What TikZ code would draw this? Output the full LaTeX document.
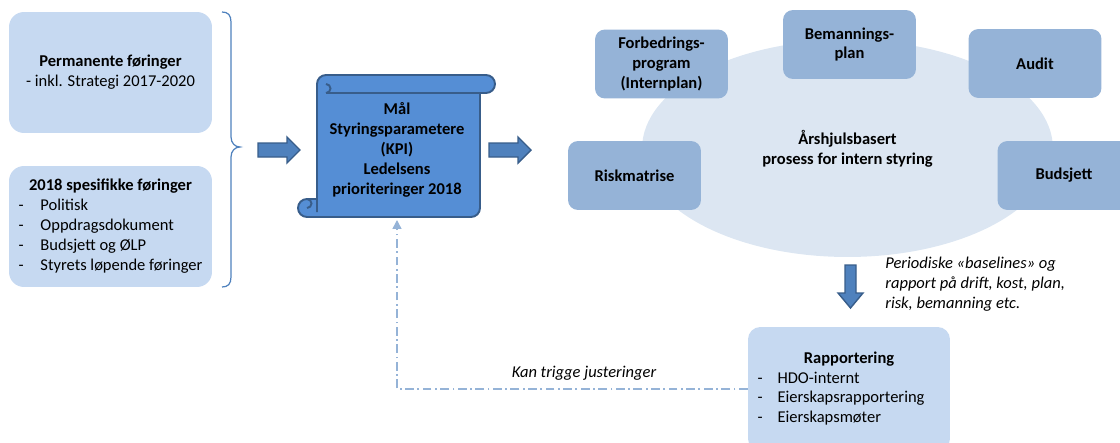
\documentclass[tikz,border=0pt]{standalone}
\usepackage{fontspec}
\setmainfont{Carlito}
\usetikzlibrary{arrows.meta,shapes.geometric}

\definecolor{lightbox}{HTML}{C6D9F1}
\definecolor{midbox}{HTML}{95B3D7}
\definecolor{wheelfill}{HTML}{DCE6F2}
\definecolor{scrollfill}{HTML}{558ED5}
\definecolor{darkline}{HTML}{385D8A}
\definecolor{arrowfill}{HTML}{4F81BD}

\tikzset{
  txt/.style={inner sep=0pt, font=\fontsize{9.4}{11.3}\selectfont},
  btxt/.style={inner sep=0pt, font=\fontsize{9.4}{11.3}\selectfont\bfseries},
  itxt/.style={inner sep=0pt, font=\fontsize{9.4}{11.3}\selectfont\itshape},
  inputbox/.style={txt, fill=lightbox, rounded corners=8.5pt, minimum width=4.06cm, minimum height=2.42cm, align=center},
  partbox/.style={btxt, fill=midbox, rounded corners=5.7pt, minimum width=2.66cm, minimum height=1.38cm, align=center},
  blockarrow/.style={fill=arrowfill, draw=darkline, line width=0.8pt, line join=miter},
  feedback/.style={draw=midbox, line width=0.8pt, dash pattern=on 5pt off 2pt on 1pt off 2pt, -{Triangle[width=5pt,length=5pt]}}
}

\begin{document}
\begin{tikzpicture}[x=0.02cm, y=-0.02cm]
  \useasboundingbox (0,0) rectangle (1120,443);
  \clip (0,0) rectangle (1120,443);

  % inputs on the left
  \node[inputbox] (permanent) at (110.5,72.5) {\textbf{Permanente føringer}\\- inkl. Strategi 2017-2020};
  \node[inputbox] (specific) at (110.5,226.5) {\begin{tabular}{@{}p{12.5pt}@{}l@{}}
      \multicolumn{2}{c}{\textbf{2018 spesifikke føringer}}\\
      - & Politisk\\
      - & Oppdragsdokument\\
      - & Budsjett og ØLP\\
      - & Styrets løpende føringer
    \end{tabular}};
  \draw[draw=arrowfill, line width=0.7pt] (222,12) .. controls (228,12) and (231,15) .. (231,22) -- (231,137)
        .. controls (231,143) and (235,147) .. (240,147) .. controls (235,147) and (231,151) .. (231,157)
        -- (231,277) .. controls (231,284) and (228,287) .. (222,287);
  \draw[blockarrow] (258,143) -- (287,143) -- (287,137) -- (300,150) -- (287,163) -- (287,157) -- (258,157) -- cycle;

  % the scroll
  \draw[fill=scrollfill, draw=darkline, line width=1.1pt, line join=round]
        (326,75) -- (486,75) arc (-90:90:9) -- (480,93) -- (480,208) arc (0:90:9) -- (307,217)
        arc (90:270:9) -- (317,199) -- (317,84) arc (180:270:9) -- cycle;
  \draw[draw=darkline, line width=1.1pt] (326,93) -- (480,93)
        (326,93) arc (90:-90:4.5)
        (307,199) arc (-90:90:4.5)
        (317,199) -- (317,212);
  \node[btxt, align=center] (goal) at (397,150) {Mål\\Styringsparametere\\(KPI)\\Ledelsens\\prioriteringer 2018};
  \coordinate (goalfoot) at (397,220);
  \draw[blockarrow] (489,143) -- (518,143) -- (518,137) -- (531,150) -- (518,163) -- (518,157) -- (489,157) -- cycle;

  % internal steering wheel
  \node[btxt, ellipse, fill=wheelfill, minimum width=8.22cm, minimum height=4.34cm, align=center] (wheel) at (847.5,148.5) {Årshjulsbasert\\prosess for intern styring};
  \node[partbox] (improve) at (661.5,64) {Forbedrings-\\program\\(Internplan)};
  \node[partbox] (staffing) at (849.5,44.5) {Bemannings-\\plan};
  \node[partbox] (audit) at (1035,63.5) {Audit};
  \node[partbox] (risk) at (634.5,175.5) {Riskmatrise};
  \node[partbox] (budget) at (1064,175.5) {Budsjett};

  % reporting
  \draw[blockarrow] (845,265) -- (856,265) -- (856,293) -- (863,293) -- (850.5,308) -- (838,293) -- (845,293) -- cycle;
  \node[itxt, align=left, anchor=west] (baselines) at (885,284) {Periodiske «baselines» og\\rapport på drift, kost, plan,\\risk, bemanning etc.};
  \node[inputbox, rounded corners=7pt, minimum width=4.04cm, minimum height=2.48cm] (rapp) at (849,389) {\begin{tabular}{@{}p{11.3pt}@{}l@{\hspace{9pt}}}
      \multicolumn{2}{c}{\textbf{Rapportering}}\\
      - & HDO-internt\\
      - & Eierskapsrapportering\\
      - & Eierskapsmøter
    \end{tabular}};
  \draw[feedback] (rapp.west) -| (goalfoot);
  \node[itxt, anchor=base] (trigger) at (584,377) {Kan trigge justeringer};
\end{tikzpicture}
\end{document}
